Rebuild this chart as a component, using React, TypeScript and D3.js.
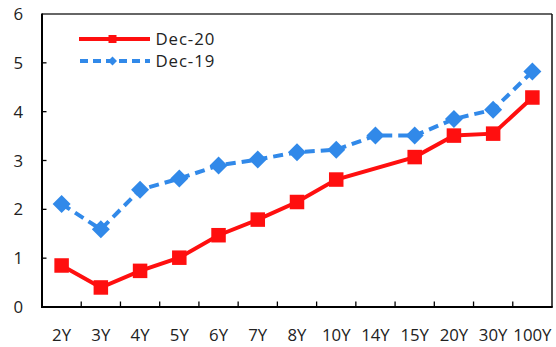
import React from "react";
import * as d3 from "d3";

const categories = ["2Y", "3Y", "4Y", "5Y", "6Y", "7Y", "8Y", "10Y", "14Y", "15Y", "20Y", "30Y", "100Y"];
const dec20: (number | null)[] = [0.85, 0.4, 0.74, 1.01, 1.47, 1.79, 2.15, 2.61, null, 3.07, 3.51, 3.55, 4.29];
const dec19: (number | null)[] = [2.11, 1.59, 2.4, 2.63, 2.9, 3.02, 3.17, 3.22, 3.51, 3.51, 3.85, 4.04, 4.82];
const yTicks = [0, 1, 2, 3, 4, 5, 6];
const seriesNames = ["Dec-20", "Dec-19"];

const W = 556;
const H = 347;
const left = 42;
const right = 552;
const top = 14;
const bottom = 307;
const RED = "#FF0F0F";
const BLUE = "#3189E9";
const FONT = "'Open Sans', 'Noto Sans', sans-serif";
const FS = 16.8;

export default function App() {
  const x = d3.scaleBand<string>().domain(categories).range([left, right]).padding(0);
  const y = d3.scaleLinear().domain([0, 6]).range([bottom, top]);
  const cx = (c: string) => (x(c) as number) + x.bandwidth() / 2;

  const pts = (vals: (number | null)[]) =>
    categories
      .map((c, i) => ({ c, v: vals[i] }))
      .filter((d) => d.v !== null) as { c: string; v: number }[];

  const line = d3
    .line<{ c: string; v: number }>()
    .x((d) => cx(d.c))
    .y((d) => y(d.v));

  const red = pts(dec20);
  const blue = pts(dec19);
  const boundaries = categories.map((c) => (x(c) as number) + x.bandwidth()).slice(0, -1);

  const sq = 14.5;
  const dm = 9;

  return (
    <svg width={W} height={H} style={{ position: "absolute", left: 0, top: 0, background: "#fff" }}>
      {/* frame */}
      <line x1={left} x2={right} y1={top} y2={top} stroke="#333" strokeWidth={1.3} />
      <line x1={right} x2={right} y1={top} y2={bottom} stroke="#111" strokeWidth={1.5} />
      <line x1={left} x2={left} y1={top - 0.5} y2={bottom + 1} stroke="#000" strokeWidth={2} />
      <line x1={left - 1} x2={right + 0.75} y1={bottom} y2={bottom} stroke="#000" strokeWidth={2} />
      {/* y ticks */}
      {yTicks.map((t) => (
        <g key={"y" + t}>
          {t > 0 && t < 6 && <line x1={left} x2={left + 4.5} y1={y(t)} y2={y(t)} stroke="#000" strokeWidth={1.3} />}
          <text x={23} y={y(t)} dy="0.36em" textAnchor="end" fontFamily={FONT} fontSize={FS} fill="#222">
            {t}
          </text>
        </g>
      ))}
      {/* x ticks */}
      {boundaries.map((b, i) => (
        <line key={"xt" + i} x1={b} x2={b} y1={bottom} y2={bottom - 5.5} stroke="#000" strokeWidth={1.3} />
      ))}
      {categories.map((c) => (
        <text key={"xl" + c} x={cx(c)} y={341} textAnchor="middle" fontFamily={FONT} fontSize={FS} fill="#222">
          {c}
        </text>
      ))}
      {/* Dec-19 */}
      <path d={line(blue) || ""} fill="none" stroke={BLUE} strokeWidth={4} strokeDasharray="10 6" />
      {blue.map((d) => (
        <path
          key={"b" + d.c}
          d={`M${cx(d.c)},${y(d.v) - dm}L${cx(d.c) + dm},${y(d.v)}L${cx(d.c)},${y(d.v) + dm}L${cx(d.c) - dm},${y(d.v)}Z`}
          fill={BLUE}
        />
      ))}
      {/* Dec-20 */}
      <path d={line(red) || ""} fill="none" stroke={RED} strokeWidth={4} />
      {red.map((d) => (
        <rect key={"r" + d.c} x={cx(d.c) - sq / 2} y={y(d.v) - sq / 2} width={sq} height={sq} fill={RED} />
      ))}
      {/* legend */}
      <line x1={79} x2={150} y1={39} y2={39} stroke={RED} strokeWidth={4} />
      <rect x={108.5} y={35} width={8} height={8} fill={RED} />
      <line x1={80} x2={150} y1={61} y2={61} stroke={BLUE} strokeWidth={4} strokeDasharray="8 5" />
      <path d="M112.5,56.5L117,61L112.5,65.5L108,61Z" fill={BLUE} />
      <text x={155.5} y={39} dy="0.36em" fontFamily={FONT} fontSize={FS} letterSpacing={0.9} fill="#222">
        {seriesNames[0]}
      </text>
      <text x={155.5} y={61} dy="0.36em" fontFamily={FONT} fontSize={FS} letterSpacing={0.9} fill="#222">
        {seriesNames[1]}
      </text>
    </svg>
  );
}
